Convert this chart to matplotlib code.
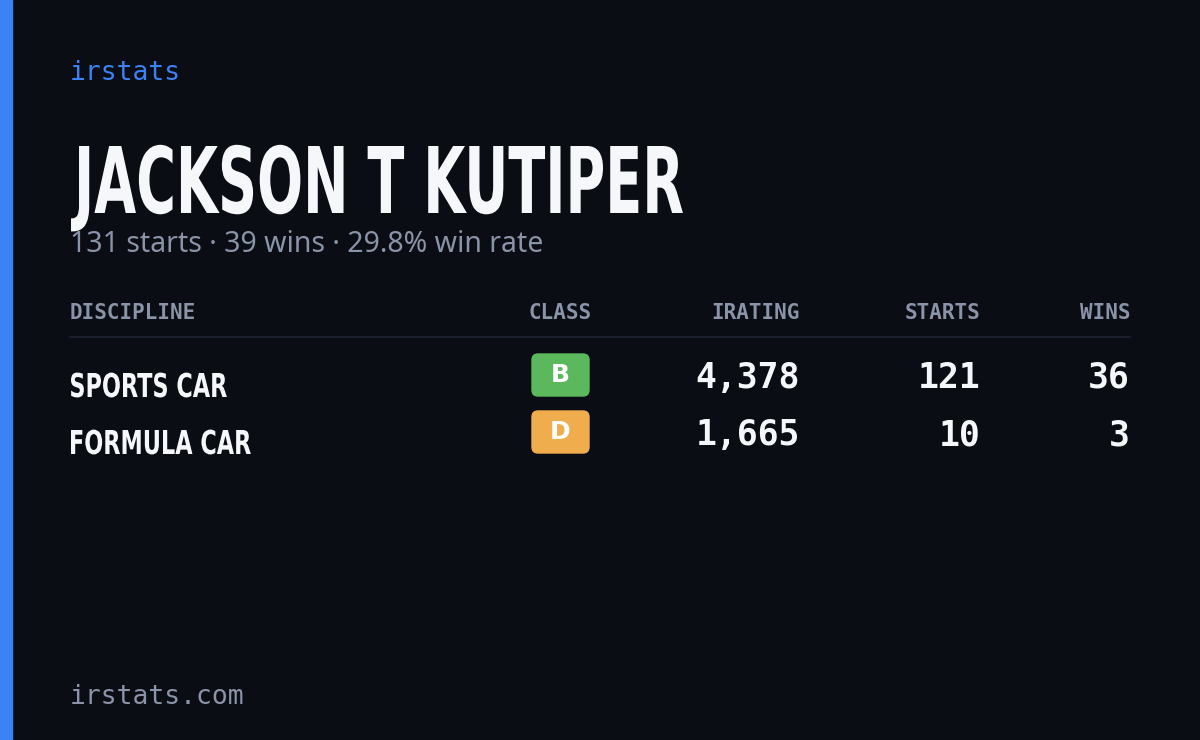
import matplotlib.pyplot as plt
from matplotlib.patches import Rectangle, FancyBboxPatch, PathPatch
from matplotlib.textpath import TextPath
from matplotlib.font_manager import FontProperties
from matplotlib.transforms import Affine2D

W, H = 1200, 740
BG = '#0a0d14'
BLUE = '#3b82f6'
MUTED = '#8a94a8'
WHITE = '#f5f7fa'

driver = 'JACKSON T KUTIPER'
total_starts = 131
total_wins = 39
disciplines = ['SPORTS CAR', 'FORMULA CAR']
classes = ['B', 'D']
class_colors = ['#5cb85c', '#f0ad4e']
iratings = [4378, 1665]
starts = [121, 10]
wins = [36, 3]
columns = ['DISCIPLINE', 'CLASS', 'IRATING', 'STARTS', 'WINS']

fig = plt.figure(figsize=(12, 7.4), dpi=100)
fig.patch.set_facecolor(BG)
ax = fig.add_axes([0, 0, 1, 1])
ax.set_xlim(0, W)
ax.set_ylim(H, 0)
ax.axis('off')

mono = 'DejaVu Sans Mono'
bold_fp = FontProperties(family='DejaVu Sans', weight='bold')


def condensed(text, x, baseline, cap_h, squeeze):
    # draw text as a path, squeezed horizontally to mimic a condensed face
    tp = TextPath((0, 0), text, size=100, prop=bold_fp)
    cap = TextPath((0, 0), 'H', size=100, prop=bold_fp).get_extents().height
    s = cap_h / cap
    ext = tp.get_extents()
    tr = Affine2D().translate(-ext.x0, 0).scale(s * squeeze, -s).translate(x, baseline)
    ax.add_patch(PathPatch(tr.transform_path(tp), color=WHITE, lw=0))


ax.add_patch(Rectangle((0, 0), 12, H, color=BLUE))

ax.text(70, 73, 'irstats', color=BLUE, fontsize=19, family=mono, va='center')
condensed(driver, 71, 213, 67, 0.59)
rate = total_wins / total_starts * 100
ax.text(70, 245, f'{total_starts} starts · {total_wins} wins · {rate:.1f}% win rate',
        color=MUTED, fontsize=20.5, family='Noto Sans', va='center')

col_x = [70, 560, 800, 980, 1130]
col_ha = ['left', 'center', 'right', 'right', 'right']
for name, x, ha in zip(columns, col_x, col_ha):
    ax.text(x, 313, name, color=MUTED, fontsize=15, family=mono, ha=ha, va='center',
            fontweight='bold')
ax.plot([70, 1130], [337, 337], color='#1e2430', lw=1.2)

row_y = [380, 437]
for i, y in enumerate(row_y):
    condensed(disciplines[i], 71, y + 17, 24, 0.68)
    ax.add_patch(FancyBboxPatch((532, y - 26), 57, 42, boxstyle='round,pad=0,rounding_size=6',
                                color=class_colors[i]))
    ax.text(560, y - 5, classes[i], color='white', fontsize=18, family='DejaVu Sans',
            fontweight='bold', ha='center', va='center')
    for val, x in ((f'{iratings[i]:,}', 800), (str(starts[i]), 980), (str(wins[i]), 1130)):
        ax.text(x, y - 2, val, color=WHITE, fontsize=25, family=mono, fontweight='bold',
                ha='right', va='center')

ax.text(70, 697, 'irstats.com', color=MUTED, fontsize=19, family=mono, va='center')

fig.savefig('out.png', dpi=100, facecolor=BG)
